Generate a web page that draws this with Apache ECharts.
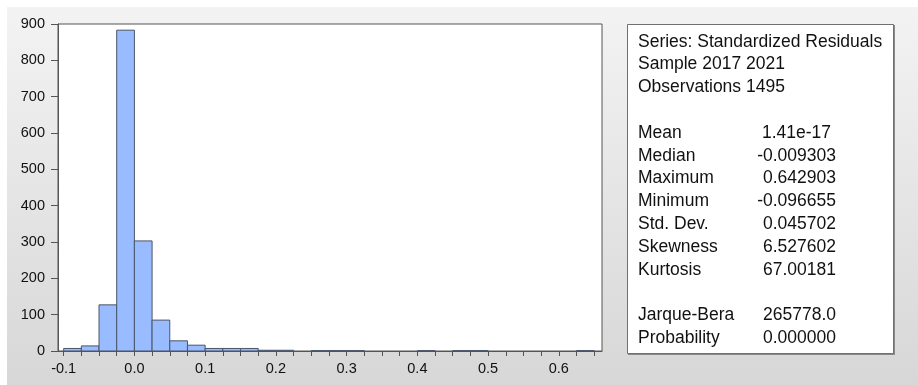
<!DOCTYPE html>
<html><head><meta charset="utf-8">
<script src="https://cdn.jsdelivr.net/npm/echarts@6/dist/echarts.min.js"></script>
<style>html,body{margin:0;padding:0;background:#fff}#c{width:918px;height:385px}</style>
</head><body><div id="c"></div>
<script>
// Histogram bins (left edges, width 0.025) and counts
const binLeft = [-0.1,-0.075,-0.05,-0.025,0,0.025,0.05,0.075,0.1,0.125,0.15,0.175,0.2,0.225,0.25,0.275,0.3,0.325,0.35,0.375,0.4,0.425,0.45,0.475,0.5,0.525,0.55,0.575,0.6,0.625];
const binRight = [-0.075,-0.05,-0.025,0,0.025,0.05,0.075,0.1,0.125,0.15,0.175,0.2,0.225,0.25,0.275,0.3,0.325,0.35,0.375,0.4,0.425,0.45,0.475,0.5,0.525,0.55,0.575,0.6,0.625,0.65];
const counts = [7,14,127,883,303,85,28,16,7,7,7,2,2,0,1,1,1,0,0,0,1,0,1,1,0,0,0,0,0,1];
const xTickLabels = [-0.1,0.0,0.1,0.2,0.3,0.4,0.5,0.6];
const xMinorTicks = [-0.1,-0.075,-0.05,-0.025,0,0.025,0.05,0.075,0.1,0.125,0.15,0.175,0.2,0.225,0.25,0.275,0.3,0.325,0.35,0.375,0.4,0.425,0.45,0.475,0.5,0.525,0.55,0.575,0.6,0.625,0.65];

const statHeader = ["Series: Standardized Residuals","Sample 2017 2021","Observations 1495"];
const statNames = ["Mean","Median","Maximum","Minimum","Std. Dev.","Skewness","Kurtosis"];
const statValues = ["1.41e-17","-0.009303","0.642903","-0.096655","0.045702","6.527602","67.00181"];
const testNames = ["Jarque-Bera","Probability"];
const testValues = ["265778.0","0.000000"];

const FONT = 'Liberation Sans';
const chart = echarts.init(document.getElementById('c'));

const graphics = [
  {type:'rect', shape:{x:7,y:7,width:911,height:378}, z:-10, silent:true,
   style:{fill:new echarts.graphic.LinearGradient(0,0,0,1,[{offset:0,color:'#f3f3f3'},{offset:1,color:'#d7d7d7'}])}},
  {type:'rect', shape:{x:628,y:25,width:267,height:330}, z:1,
   style:{fill:'#8a8a8a'}},
  {type:'rect', shape:{x:627.5,y:24.5,width:266,height:329}, z:1,
   style:{fill:'#ffffff', stroke:'#707070', lineWidth:1}}
];
const LH = 22.8, Y0 = 41.7;
function addLine(i, label, value, valueShift){
  graphics.push({type:'text', z:2, style:{text:label, x:638, y:Y0+i*LH, fontSize:17.5, fontFamily:FONT, fill:'#111', verticalAlign:'middle', align:'left'}});
  if (value !== undefined) graphics.push({type:'text', z:2, style:{text:value, x:836-(valueShift||0), y:Y0+i*LH, fontSize:17.5, fontFamily:FONT, fill:'#111', verticalAlign:'middle', align:'right'}});
}
statHeader.forEach((t,i)=>addLine(i,t));
statNames.forEach((t,i)=>addLine(4+i,t,statValues[i], i===0?5:0));
testNames.forEach((t,i)=>addLine(12+i,t,testValues[i]));

const data = binLeft.map((b,i)=>[b,binRight[i],counts[i]]).filter(d=>d[2]>0);

chart.setOption({
  animation:false,
  textStyle:{fontFamily:FONT, fontSize:14},
  graphic: graphics,
  grid:{left:58, top:24, right:316, bottom:34, show:true, backgroundColor:'#ffffff', borderColor:'#555', borderWidth:1},
  xAxis:{type:'value', min:-0.108, max:0.661, position:'bottom',
    splitLine:{show:false}, axisLine:{show:true, onZero:false, lineStyle:{color:'#555',width:1}},
    axisTick:{show:true, length:5, customValues:xMinorTicks, lineStyle:{color:'#555'}},
    axisLabel:{show:true, customValues:xTickLabels, margin:10, fontSize:14.5, fontFamily:FONT, color:'#111',
      formatter:v=>Number(v).toFixed(1)}
  },
  yAxis:{type:'value', min:0, max:900, interval:100, splitLine:{show:false},
    axisLine:{show:true, onZero:false, lineStyle:{color:'#555'}},
    axisTick:{show:true, length:7, lineStyle:{color:'#555'}},
    axisLabel:{margin:13, fontSize:14.5, fontFamily:FONT, color:'#111'}},
  series:[{
    type:'custom', data:data, clip:false,
    encode:{x:[0,1], y:2},
    renderItem:function(params, api){
      const p0 = api.coord([api.value(0), api.value(2)]);
      const p1 = api.coord([api.value(1), 0]);
      return {type:'rect', shape:{x:p0[0], y:p0[1], width:p1[0]-p0[0], height:p1[1]-p0[1]},
        style:{fill:'#99bbff', stroke:'#4a5568', lineWidth:1}};
    }
  }]
});
</script></body></html>
